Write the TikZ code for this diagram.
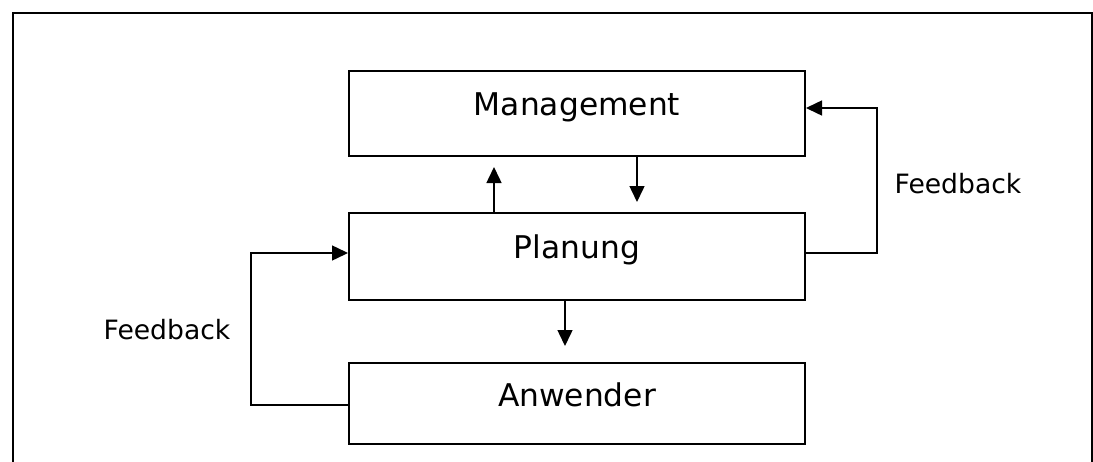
\documentclass[tikz,border=0pt]{standalone}
\usepackage{fontspec}
\setmainfont{DejaVu Sans}
\usetikzlibrary{arrows.meta,calc}
\begin{document}
\begin{tikzpicture}[x=1pt,y=-1pt,
  box/.style={draw, line width=2pt, minimum width=456pt, inner sep=0pt},
  boxtext/.style={font=\fontsize{31.3}{36}\selectfont, anchor=base, inner sep=0pt},
  fbtext/.style={font=\fontsize{26.6}{31}\selectfont, anchor=base, inner sep=0pt},
  conn/.style={line width=1.5pt, -{Triangle[length=16pt,width=15pt]}}]
\useasboundingbox (0,0) rectangle (1093,461);
% open frame around the diagram
\draw[line width=1.8pt] (13,470) -- (13,13) -- (1092,13) -- (1092,470);

% the three levels
\node[box, minimum height=85pt] (mgmt) at (577,113.5) {};
\node[box, minimum height=87pt] (plan) at (577,256.5) {};
\node[box, minimum height=81pt] (anw)  at (577,403.5) {};
\node[boxtext] (mgmttext) at ([yshift=-1.5pt]mgmt.center) {Management};
\node[boxtext] (plantext) at ([yshift=-1.5pt]plan.center) {Planung};
\node[boxtext] (anwtext)  at ([yshift=-2.5pt]anw.center) {Anwender};

% vertical flows
\draw[conn] ([xshift=-83pt]plan.north) -- ([xshift=-83pt,yshift=-10pt]mgmt.south);
\draw[conn] ([xshift=60pt]mgmt.south) -- ([xshift=60pt,yshift=10pt]plan.north);
\draw[conn] ([xshift=-12pt]plan.south) -- ([xshift=-12pt,yshift=16pt]anw.north);

% feedback loops
\coordinate (fbr) at (877,108);
\coordinate (fbl) at (251,253);
\draw[conn] ([yshift=3.5pt]plan.east) -| (fbr) -- ([yshift=5.5pt]mgmt.east);
\draw[conn] ([yshift=-1.5pt]anw.west) -| (fbl) -- ([yshift=3.5pt]plan.west);
\node[fbtext] (fbrlabel) at (958,193) {Feedback};
\node[fbtext] (fbllabel) at (167,339) {Feedback};
\end{tikzpicture}
\end{document}
